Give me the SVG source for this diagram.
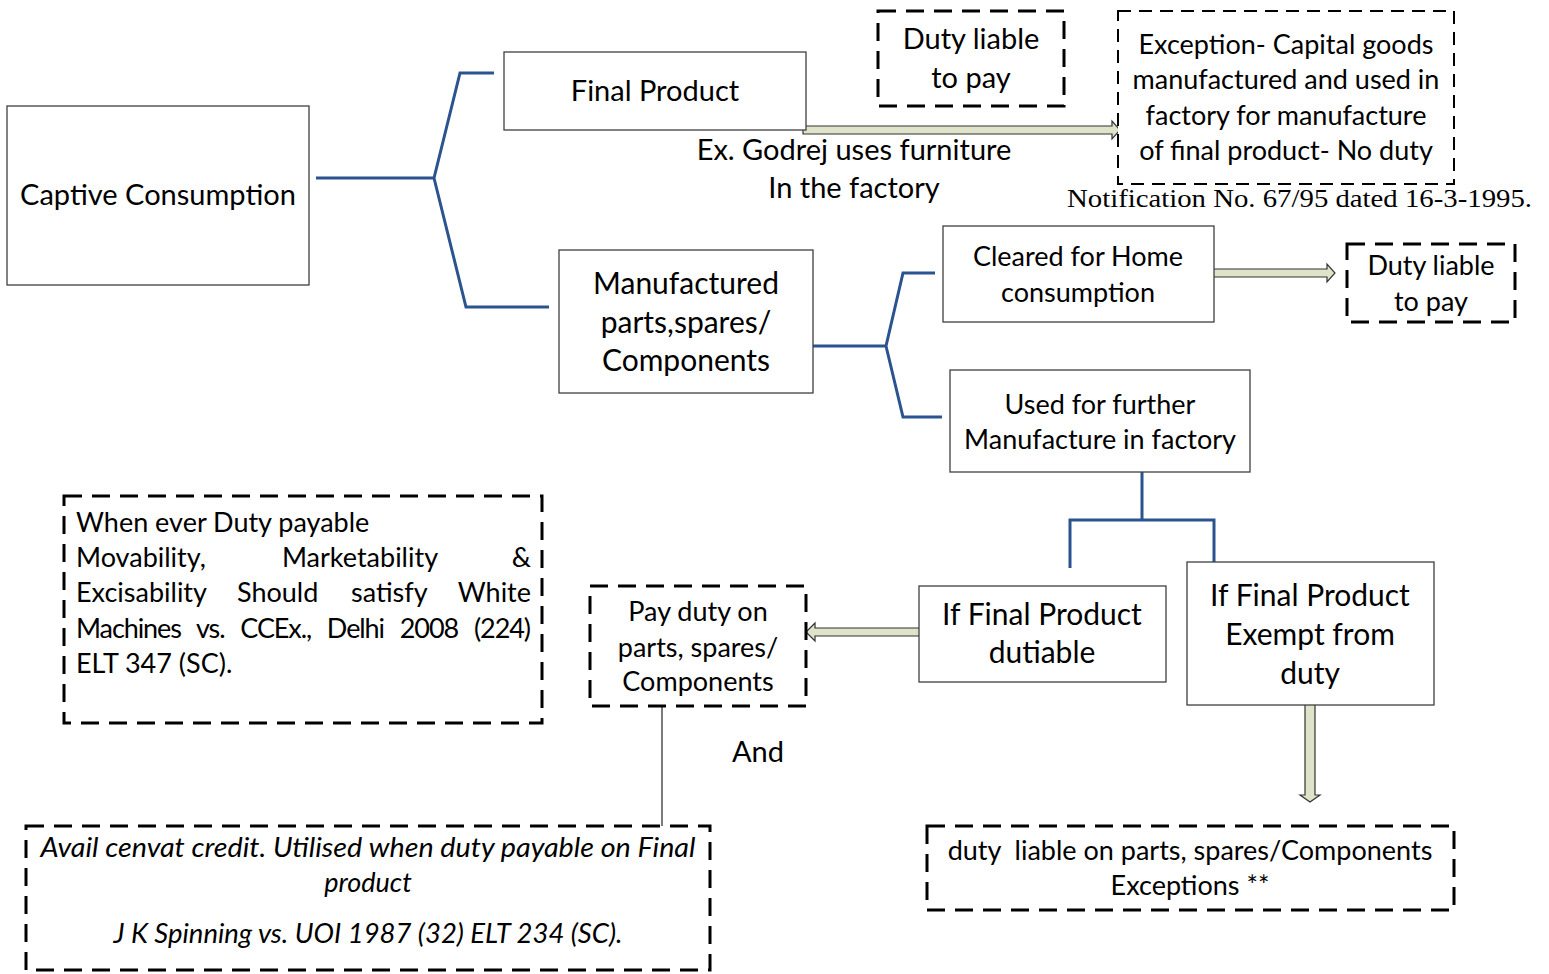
<svg xmlns="http://www.w3.org/2000/svg" width="1549" height="974" viewBox="0 0 1549 974">
<defs>
<style>
.box{fill:#fff;stroke:#404040;stroke-width:1.3}
.dash{fill:#fff;stroke:#000;stroke-width:3;stroke-dasharray:18 10}
.dash2{fill:#fff;stroke:#000;stroke-width:2;stroke-dasharray:13 8}
.t{font-family:Lato,"Open Sans","Liberation Sans",sans-serif;fill:#000;text-anchor:middle}
.l{text-anchor:start}
.e{text-anchor:end}
.br{fill:none;stroke:#2b5390;stroke-width:3}
.arr{fill:#dfe3c9;stroke:#333;stroke-width:1.2}
</style>
</defs>
<rect width="1549" height="974" fill="#fff"/>
<g id="connectors">
<path class="br" d="M316,178 H434 L460,73 H494 M434,178 L466,307 H549"/>
<path class="br" d="M813,346 H886 L903,273 H935 M886,346 L903,417 H942"/>
<path class="br" d="M1142,472 V520 M1070,568 V520 H1214 V562"/>
<path d="M662,706 V826" stroke="#333" stroke-width="1.3" fill="none"/>
<path class="arr" d="M803,126 H1112 V121 L1120,130 L1112,139 V134 H803 Z"/>
<path class="arr" d="M1210,269 H1327 V264 L1335,273 L1327,282 V277 H1210 Z"/>
<path class="arr" d="M922,628 H815 V623 L806,632 L815,641 V636 H922 Z"/>
<path class="arr" d="M1305,703 V795 H1300 L1310,802 L1320,795 H1315 V703 Z"/>
</g>
<g id="captive">
<rect class="box" x="7" y="106" width="302" height="179"/>
<text class="t" x="158" y="205" font-size="29">Captive Consumption</text>
</g>
<g id="final-product">
<rect class="box" x="504" y="52" width="302" height="78"/>
<text class="t" x="655" y="101" font-size="29">Final Product</text>
</g>
<g id="duty-liable-1">
<rect class="dash" x="878" y="11" width="186" height="95"/>
<text class="t" x="971" y="49" font-size="29">Duty liable</text>
<text class="t" x="971" y="88" font-size="29">to pay</text>
</g>
<g id="exception">
<rect class="dash2" x="1118" y="11" width="336" height="173"/>
<text class="t" x="1286" y="54" font-size="27">Exception- Capital goods</text>
<text class="t" x="1286" y="89" font-size="27">manufactured and used in</text>
<text class="t" x="1286" y="125" font-size="27">factory for manufacture</text>
<text class="t" x="1286" y="160" font-size="27">of final product- No duty</text>
</g>
<text x="1067" y="207" font-family="'Liberation Serif',serif" font-size="26" textLength="465" lengthAdjust="spacingAndGlyphs">Notification No. 67/95 dated 16-3-1995.</text>
<g id="godrej-label">
<text class="t" x="854" y="160" font-size="29">Ex. Godrej uses furniture</text>
<text class="t" x="854" y="198" font-size="29">In the factory</text>
</g>
<g id="manufactured">
<rect class="box" x="559" y="250" width="254" height="143"/>
<text class="t" x="686" y="294" font-size="30">Manufactured</text>
<text class="t" x="686" y="333" font-size="30">parts,spares/</text>
<text class="t" x="686" y="371" font-size="30">Components</text>
</g>
<g id="cleared">
<rect class="box" x="943" y="226" width="271" height="96"/>
<text class="t" x="1078" y="266" font-size="27">Cleared for Home</text>
<text class="t" x="1078" y="302" font-size="27">consumption</text>
</g>
<g id="duty-liable-2">
<rect class="dash" x="1347" y="244" width="168" height="78"/>
<text class="t" x="1431" y="275" font-size="27">Duty liable</text>
<text class="t" x="1431" y="311" font-size="27">to pay</text>
</g>
<g id="used-further">
<rect class="box" x="950" y="370" width="300" height="102"/>
<text class="t" x="1100" y="414" font-size="27">Used for further</text>
<text class="t" x="1100" y="449" font-size="27">Manufacture in factory</text>
</g>
<g id="dutiable">
<rect class="box" x="919" y="586" width="247" height="96"/>
<text class="t" x="1042" y="625" font-size="30">If Final Product</text>
<text class="t" x="1042" y="663" font-size="30">dutiable</text>
</g>
<g id="exempt">
<rect class="box" x="1187" y="562" width="247" height="143"/>
<text class="t" x="1310" y="606" font-size="30">If Final Product</text>
<text class="t" x="1310" y="645" font-size="30">Exempt from</text>
<text class="t" x="1310" y="684" font-size="30">duty</text>
</g>
<g id="pay-duty">
<rect class="dash" x="590" y="586" width="216" height="120"/>
<text class="t" x="698" y="621" font-size="27">Pay duty on</text>
<text class="t" x="698" y="657" font-size="27">parts, spares/</text>
<text class="t" x="698" y="691" font-size="27">Components</text>
</g>
<text class="t" x="758" y="762" font-size="29">And</text>
<g id="whenever">
<rect class="dash" x="64" y="496" width="478" height="227"/>
<text class="t l" x="76" y="532" font-size="27">When ever Duty payable</text>
<text class="t l" x="76" y="567" font-size="27">Movability,</text>
<text class="t" x="360" y="567" font-size="27">Marketability</text>
<text class="t e" x="531" y="567" font-size="27">&amp;</text>
<text class="t l" x="76" y="602" font-size="27">Excisability</text>
<text class="t l" x="237" y="602" font-size="27">Should</text>
<text class="t l" x="351" y="602" font-size="27">satisfy</text>
<text class="t e" x="531" y="602" font-size="27">White</text>
<text class="t l" x="76" y="638" font-size="27" textLength="455" lengthAdjust="spacing" word-spacing="10">Machines vs. CCEx., Delhi 2008 (224)</text>
<text class="t l" x="76" y="673" font-size="27">ELT 347 (SC).</text>
</g>
<g id="cenvat">
<rect class="dash" x="26" y="826" width="684" height="144"/>
<text class="t" x="368" y="857" font-size="27" font-style="italic" textLength="655" lengthAdjust="spacingAndGlyphs">Avail cenvat credit. Utilised when duty payable on Final</text>
<text class="t" x="368" y="892" font-size="27" font-style="italic">product</text>
<text class="t" x="368" y="943" font-size="27" font-style="italic" textLength="509" lengthAdjust="spacingAndGlyphs">J K Spinning vs. UOI 1987 (32) ELT 234 (SC).</text>
</g>
<g id="duty-liable-parts">
<rect class="dash" x="927" y="826" width="527" height="84"/>
<text class="t" x="1190" y="860" font-size="27" xml:space="preserve">duty  liable on parts, spares/Components</text>
<text class="t" x="1190" y="895" font-size="27">Exceptions **</text>
</g>
</svg>
